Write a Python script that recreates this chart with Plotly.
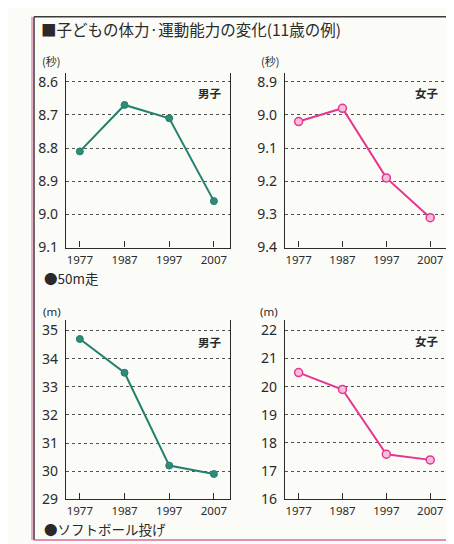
import plotly.graph_objects as go

years = [1977, 1987, 1997, 2007]
run50_boys = [8.81, 8.67, 8.71, 8.96]
run50_girls = [9.02, 8.98, 9.19, 9.31]
ball_boys = [34.7, 33.5, 30.2, 29.9]
ball_girls = [20.5, 19.9, 17.6, 17.4]

run50_boys_ticks = [8.6, 8.7, 8.8, 8.9, 9.0, 9.1]
run50_girls_ticks = [8.9, 9.0, 9.1, 9.2, 9.3, 9.4]
ball_boys_ticks = [29, 30, 31, 32, 33, 34, 35]
ball_girls_ticks = [16, 17, 18, 19, 20, 21, 22]

W, H = 454, 544
def px(x): return x / W
def py(y): return 1 - y / H

BOY_LINE = "#23806c"
BOY_MARK = "#2f8a78"
GIRL_LINE = "#e6358f"
GIRL_FILL = "#f7c0da"
INK = "#2a2a2a"

fig = go.Figure()

panels = [
    (run50_boys, run50_boys_ticks, ".1f", [9.1, 8.573], (58, 222), (65, 243), "boy"),
    (run50_girls, run50_girls_ticks, ".1f", [9.4, 8.873], (277, 438), (65, 243), "girl"),
    (ball_boys, ball_boys_ticks, "d", [29, 35.37], (58, 222), (317, 499.5), "boy"),
    (ball_girls, ball_girls_ticks, "d", [16, 22.36], (277, 438), (317, 499.5), "girl"),
]

layout_axes = {}
for i, (vals, ticks, fmt, yr, xd, yd, sex) in enumerate(panels, start=1):
    xa = "x" if i == 1 else f"x{i}"
    ya = "y" if i == 1 else f"y{i}"
    if sex == "boy":
        fig.add_trace(go.Scatter(
            x=years, y=vals, mode="lines+markers", xaxis=xa, yaxis=ya,
            line=dict(color=BOY_LINE, width=2),
            marker=dict(size=7, color=BOY_MARK, line=dict(color=BOY_LINE, width=1)),
            showlegend=False, cliponaxis=False))
    else:
        fig.add_trace(go.Scatter(
            x=years, y=vals, mode="lines+markers", xaxis=xa, yaxis=ya,
            line=dict(color=GIRL_LINE, width=2),
            marker=dict(size=8, color=GIRL_FILL, line=dict(color=GIRL_LINE, width=1.5)),
            showlegend=False, cliponaxis=False))
    xkey = "xaxis" if i == 1 else f"xaxis{i}"
    ykey = "yaxis" if i == 1 else f"yaxis{i}"
    layout_axes[xkey] = dict(
        domain=[px(xd[0]), px(xd[1])], anchor=ya, range=[1973.9, 2010.6],
        tickvals=years, ticktext=[str(y) for y in years],
        ticks="inside", ticklen=6, tickcolor=INK, tickwidth=1.2,
        showline=True, linecolor=INK, linewidth=1.4, showgrid=False, zeroline=False,
        ticklabelstandoff=1,
        tickfont=dict(family="Noto Sans", size=11.5, color=INK))
    layout_axes[ykey] = dict(
        domain=[py(yd[1]), py(yd[0])], anchor=xa, range=yr,
        tickvals=ticks, ticktext=[format(t, fmt) for t in ticks],
        showline=True, mirror=True, linecolor=INK, linewidth=1.4,
        showgrid=True, gridcolor="#555555", griddash="dot", gridwidth=1,
        zeroline=False, ticks="", ticklabelstandoff=4,
        tickfont=dict(family="Noto Sans", size=14, color=INK))

fig.update_layout(**layout_axes)

ann = []
def text(x, y, s, size, xanchor="left", family="Noto Sans CJK JP", color=INK):
    ann.append(dict(x=px(x), y=py(y), xref="paper", yref="paper", text=s,
                    showarrow=False, xanchor=xanchor, yanchor="middle",
                    font=dict(family=family, size=size, color=color)))

text(31, 20, "■子どもの体力·運動能力の変化(11歳の例)", 15.5)
text(32, 53, "(秒)", 11)
text(251, 53, "(秒)", 11)
text(33, 308, "(m)", 11.5, family="Noto Sans")
text(250, 308, "(m)", 11.5, family="Noto Sans")
text(216, 86, "<b>男子</b>", 11.5, xanchor="right")
text(433, 86, "<b>女子</b>", 11.5, xanchor="right")
text(216, 339, "<b>男子</b>", 11.5, xanchor="right")
text(433, 338, "<b>女子</b>", 11.5, xanchor="right")
text(34, 274, "●50m走", 13.5)
text(34, 530, "●ソフトボール投げ", 13.5)

shapes = [
    dict(type="line", xref="paper", yref="paper", x0=px(26), x1=px(450), y0=py(8), y1=py(8),
         line=dict(color="#3a3a3a", width=1.5)),
    dict(type="line", xref="paper", yref="paper", x0=px(26), x1=px(26), y0=py(8), y1=py(541),
         line=dict(color="#3a3a3a", width=1.5)),
    dict(type="line", xref="paper", yref="paper", x0=px(24), x1=px(24), y0=py(8), y1=py(541),
         line=dict(color="#e07aa8", width=1.2)),
    dict(type="line", xref="paper", yref="paper", x0=px(450), x1=px(450), y0=py(8), y1=py(541),
         line=dict(color="#d86a9e", width=1.5)),
    dict(type="line", xref="paper", yref="paper", x0=px(26), x1=px(450), y0=py(541), y1=py(541),
         line=dict(color="#d86a9e", width=1.5)),
]

fig.update_layout(
    width=W, height=H, margin=dict(l=0, r=0, t=0, b=0),
    paper_bgcolor="#fbfbf8", plot_bgcolor="rgba(0,0,0,0)",
    annotations=ann, shapes=shapes, showlegend=False,
)

fig.write_html("out.html")
